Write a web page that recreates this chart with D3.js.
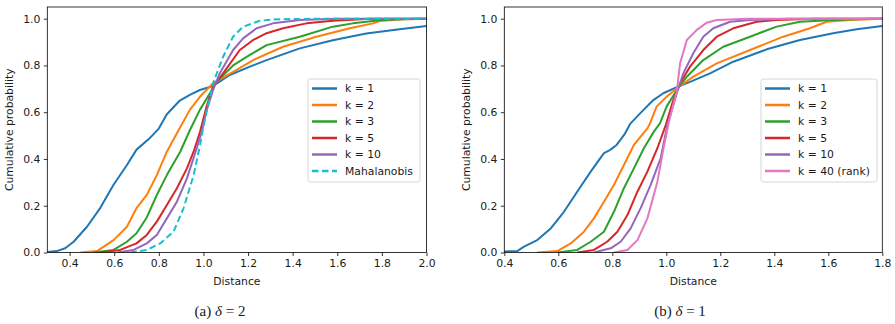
<!DOCTYPE html>
<html>
<head>
<meta charset="utf-8">
<script src="https://cdn.jsdelivr.net/npm/d3@7"></script>
<style>
  body { margin: 0; background: #fff; }
  text { font-family: "DejaVu Sans", sans-serif; fill: #1a1a1a; }
  .caption { font-family: "Liberation Serif", "DejaVu Serif", serif; }
</style>
</head>
<body>
<svg id="chart" width="895" height="324"></svg>
<script>

// (a) delta = 2
var leftK1 = [[0.28,0.0],[0.343,0.006],[0.38,0.018],[0.418,0.046],[0.478,0.11],[0.537,0.19],[0.597,0.29],[0.657,0.374],[0.70,0.44],[0.755,0.485],[0.80,0.53],[0.835,0.59],[0.894,0.65],[0.939,0.674],[0.984,0.695],[1.043,0.712],[1.118,0.759],[1.208,0.795],[1.283,0.823],[1.432,0.873],[1.58,0.908],[1.73,0.937],[1.879,0.955],[2.0,0.969],[2.2,0.98]];
var leftK2 = [[0.448,0.0],[0.523,0.006],[0.597,0.053],[0.657,0.11],[0.70,0.19],[0.746,0.246],[0.791,0.331],[0.836,0.431],[0.881,0.51],[0.939,0.61],[0.984,0.666],[1.043,0.724],[1.133,0.773],[1.223,0.823],[1.357,0.88],[1.506,0.923],[1.656,0.959],[1.76,0.98],[1.79,0.99],[1.9,0.998],[2.1,1.0]];
var leftK3 = [[0.508,0.0],[0.597,0.011],[0.657,0.046],[0.70,0.082],[0.746,0.15],[0.791,0.246],[0.836,0.331],[0.896,0.431],[0.94,0.525],[0.984,0.61],[1.029,0.681],[1.059,0.73],[1.133,0.80],[1.208,0.845],[1.283,0.887],[1.432,0.923],[1.58,0.966],[1.67,0.98],[1.80,0.994],[1.95,1.0],[2.1,1.0]];
var leftK5 = [[0.536,0.0],[0.627,0.011],[0.70,0.039],[0.746,0.075],[0.791,0.132],[0.836,0.203],[0.881,0.275],[0.926,0.36],[0.956,0.431],[0.985,0.517],[1.014,0.624],[1.043,0.709],[1.088,0.766],[1.163,0.866],[1.223,0.909],[1.283,0.938],[1.357,0.959],[1.462,0.98],[1.58,0.991],[1.75,1.0],[2.1,1.0]];
var leftK10 = [[0.612,0.0],[0.687,0.011],[0.746,0.039],[0.791,0.075],[0.836,0.146],[0.881,0.217],[0.926,0.317],[0.97,0.446],[0.993,0.517],[1.012,0.6],[1.043,0.695],[1.073,0.766],[1.133,0.866],[1.178,0.916],[1.238,0.959],[1.312,0.98],[1.432,0.994],[1.6,1.0],[2.1,1.0]];
var leftMaha = [[0.672,0.0],[0.746,0.011],[0.806,0.039],[0.866,0.089],[0.911,0.19],[0.956,0.331],[0.985,0.46],[1.0,0.54],[1.043,0.724],[1.088,0.837],[1.133,0.923],[1.178,0.966],[1.253,0.991],[1.312,0.997],[1.5,1.0],[2.1,1.0]];

// (b) delta = 1
var rightK1 = [[0.38,0.004],[0.448,0.006],[0.473,0.025],[0.522,0.053],[0.572,0.103],[0.621,0.174],[0.67,0.26],[0.72,0.346],[0.769,0.425],[0.791,0.438],[0.816,0.46],[0.845,0.505],[0.866,0.55],[0.903,0.595],[0.952,0.652],[0.989,0.681],[1.039,0.707],[1.088,0.73],[1.162,0.766],[1.248,0.816],[1.372,0.869],[1.495,0.909],[1.618,0.938],[1.705,0.955],[1.8,0.969],[1.9,0.98]];
var rightK2 = [[0.522,0.0],[0.596,0.006],[0.646,0.039],[0.695,0.089],[0.732,0.146],[0.769,0.217],[0.806,0.289],[0.843,0.374],[0.88,0.46],[0.93,0.531],[0.94,0.553],[0.964,0.624],[1.001,0.666],[1.039,0.702],[1.10,0.752],[1.187,0.809],[1.31,0.866],[1.433,0.923],[1.532,0.959],[1.594,0.987],[1.68,0.994],[1.8,1.0],[1.9,1.0]];
var rightK3 = [[0.596,0.0],[0.67,0.011],[0.72,0.046],[0.769,0.089],[0.806,0.174],[0.843,0.275],[0.88,0.36],[0.917,0.446],[0.954,0.517],[0.977,0.553],[1.001,0.624],[1.039,0.695],[1.076,0.752],[1.137,0.823],[1.211,0.88],[1.31,0.923],[1.409,0.966],[1.495,0.987],[1.617,0.994],[1.75,1.0],[1.9,1.0]];
var rightK5 = [[0.67,0.0],[0.732,0.011],[0.781,0.046],[0.819,0.089],[0.856,0.16],[0.893,0.26],[0.93,0.346],[0.967,0.446],[0.998,0.545],[1.026,0.652],[1.051,0.724],[1.088,0.795],[1.137,0.866],[1.187,0.923],[1.248,0.959],[1.335,0.987],[1.409,0.994],[1.55,1.0],[1.9,1.0]];
var rightK10 = [[0.732,0.0],[0.794,0.018],[0.831,0.046],[0.868,0.103],[0.905,0.19],[0.942,0.289],[0.979,0.403],[1.004,0.545],[1.039,0.681],[1.063,0.766],[1.10,0.852],[1.137,0.923],[1.174,0.959],[1.236,0.987],[1.31,0.994],[1.45,1.0],[1.9,1.0]];
var rightK40 = [[0.806,0.0],[0.856,0.011],[0.893,0.053],[0.93,0.146],[0.967,0.303],[0.992,0.46],[1.01,0.56],[1.039,0.69],[1.051,0.809],[1.076,0.909],[1.113,0.952],[1.15,0.983],[1.187,0.994],[1.3,1.0],[1.9,1.0]];

var leftLabels = ["k = 1", "k = 2", "k = 3", "k = 5", "k = 10", "Mahalanobis"];
var rightLabels = ["k = 1", "k = 2", "k = 3", "k = 5", "k = 10", "k = 40 (rank)"];
var leftColors = ["#1f77b4", "#ff7f0e", "#2ca02c", "#d62728", "#9467bd", "#17becf"];
var rightColors = ["#1f77b4", "#ff7f0e", "#2ca02c", "#d62728", "#9467bd", "#e377c2"];

var leftXTicks = [0.4, 0.6, 0.8, 1.0, 1.2, 1.4, 1.6, 1.8, 2.0];
var rightXTicks = [0.4, 0.6, 0.8, 1.0, 1.2, 1.4, 1.6, 1.8];
var yTicks = [0.0, 0.2, 0.4, 0.6, 0.8, 1.0];

var svg = d3.select("#chart");

// Draw one panel: frame, axes, curves and legend
function drawPanel(p) {
  var x = d3.scaleLinear().domain(p.xDomain).range([p.left, p.right]);
  var y = d3.scaleLinear().domain([0, 1.05]).range([p.bottom, p.top]);
  var g = svg.append("g");

  var clipId = "clip-" + p.id;
  svg.append("clipPath").attr("id", clipId)
    .append("rect")
      .attr("x", p.left).attr("y", p.top)
      .attr("width", p.right - p.left).attr("height", p.bottom - p.top);

  var line = d3.line()
    .x(function(d) { return x(d[0]); })
    .y(function(d) { return y(d[1]); });

  var curves = g.append("g").attr("clip-path", "url(#" + clipId + ")");
  p.series.forEach(function(s, i) {
    curves.append("path")
      .datum(s)
      .attr("d", line)
      .attr("fill", "none")
      .attr("stroke", p.colors[i])
      .attr("stroke-width", 2)
      .attr("stroke-linejoin", "round")
      .attr("stroke-dasharray", p.dashed[i] ? "6.5,3.5" : null);
  });

  // axes, matplotlib style
  var xAxis = d3.axisBottom(x).tickValues(p.xTicks).tickFormat(d3.format(".1f"))
    .tickSizeOuter(0).tickSize(3.5).tickPadding(3.5);
  var yAxis = d3.axisLeft(y).tickValues(yTicks).tickFormat(d3.format(".1f"))
    .tickSizeOuter(0).tickSize(3.5).tickPadding(3.5);

  var gx = g.append("g").attr("transform", "translate(0," + p.bottom + ")").call(xAxis);
  var gy = g.append("g").attr("transform", "translate(" + p.left + ",0)").call(yAxis);
  [gx, gy].forEach(function(a) {
    a.select(".domain").remove();
    a.selectAll(".tick line").attr("stroke", "#000").attr("stroke-width", 0.8);
    a.selectAll(".tick text").attr("font-size", 10.8).attr("font-family", "DejaVu Sans").attr("fill", "#1a1a1a");
  });

  g.append("rect")
    .attr("x", p.left).attr("y", p.top)
    .attr("width", p.right - p.left).attr("height", p.bottom - p.top)
    .attr("fill", "none").attr("stroke", "#000").attr("stroke-width", 0.8);

  g.append("text")
    .attr("x", (p.left + p.right) / 2).attr("y", p.bottom + 32)
    .attr("text-anchor", "middle").attr("font-size", 10.8)
    .text("Distance");

  g.append("text")
    .attr("transform", "translate(" + p.ylabelX + "," + ((p.top + p.bottom) / 2) + ") rotate(-90)")
    .attr("text-anchor", "middle").attr("font-size", 10.8)
    .text("Cumulative probability");

  // legend
  var lg = g.append("g");
  lg.append("rect")
    .attr("x", p.legend.x).attr("y", p.legend.y)
    .attr("width", p.legend.w).attr("height", p.legend.h)
    .attr("rx", 2.5).attr("fill", "#fff").attr("fill-opacity", 0.8)
    .attr("stroke", "#cccccc").attr("stroke-width", 0.8);
  p.labels.forEach(function(lbl, i) {
    var ry = p.legend.y + 9.5 + i * 16.5;
    lg.append("line")
      .attr("x1", p.legend.x + 4).attr("x2", p.legend.x + 29)
      .attr("y1", ry).attr("y2", ry)
      .attr("stroke", p.colors[i]).attr("stroke-width", 2.5)
      .attr("stroke-dasharray", p.dashed[i] ? "6.5,3.5" : null);
    lg.append("text")
      .attr("x", p.legend.x + 37).attr("y", ry)
      .attr("dy", "0.36em").attr("font-size", 10.8)
      .text(lbl);
  });

  // caption below the panel
  var cap = svg.append("text").attr("class", "caption")
    .attr("x", p.captionX).attr("y", 316)
    .attr("text-anchor", "middle").attr("font-size", 15);
  cap.append("tspan").text("(" + p.tag + ") ");
  cap.append("tspan").attr("font-style", "italic").text("δ");
  cap.append("tspan").text(" = " + p.delta);
}

drawPanel({
  id: "a", tag: "a", delta: 2,
  left: 47.3, right: 426.5, top: 7, bottom: 252.5,
  xDomain: [0.3, 2.0], xTicks: leftXTicks,
  series: [leftK1, leftK2, leftK3, leftK5, leftK10, leftMaha],
  colors: leftColors, labels: leftLabels,
  dashed: [false, false, false, false, false, true],
  legend: { x: 308, y: 79, w: 112, h: 103 },
  ylabelX: 13, captionX: 220
});

drawPanel({
  id: "b", tag: "b", delta: 1,
  left: 504.3, right: 882.3, top: 7, bottom: 252.5,
  xDomain: [0.4, 1.8], xTicks: rightXTicks,
  series: [rightK1, rightK2, rightK3, rightK5, rightK10, rightK40],
  colors: rightColors, labels: rightLabels,
  dashed: [false, false, false, false, false, false],
  legend: { x: 761, y: 79, w: 116, h: 103 },
  ylabelX: 470, captionX: 680
});
</script>
</body>
</html>
